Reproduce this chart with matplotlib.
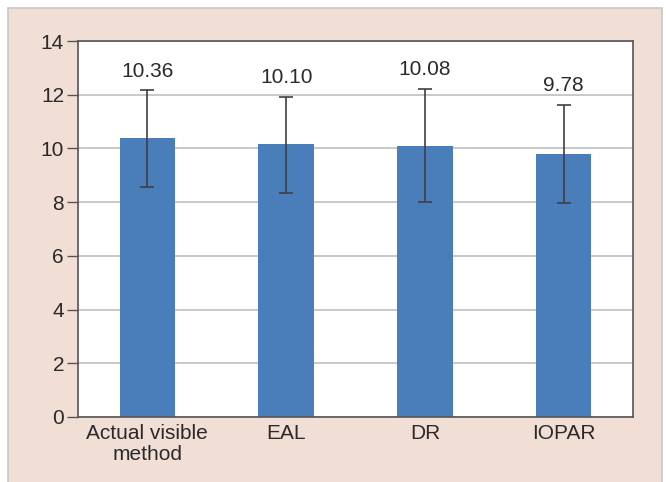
import numpy as np
import matplotlib.pyplot as plt
from matplotlib.patches import Rectangle

metodos = ['Actual visible\nmethod', 'EAL', 'DR', 'IOPAR']
medias = [10.36, 10.10, 10.08, 9.78]
rotulos = ['10.36', '10.10', '10.08', '9.78']
alturas = [10.38, 10.18, 10.10, 9.78]
desvios = [1.80, 1.80, 2.10, 1.83]
centros_erro = [10.36, 10.13, 10.12, 9.79]
yticks = [0, 2, 4, 6, 8, 10, 12, 14]

plt.rcParams['font.family'] = ['Liberation Sans', 'DejaVu Sans']

fig = plt.figure(figsize=(6.66, 4.82), dpi=100)
fig.patch.set_facecolor('white')
fig.patches.append(Rectangle((8 / 666, -0.05), 654 / 666, 1.05 - 8 / 482,
                             transform=fig.transFigure, facecolor='#f1ded5',
                             edgecolor='#c8c8c8', linewidth=1.2, zorder=-1))

ax = fig.add_axes([78 / 666, 1 - 417 / 482, 555 / 666, 376 / 482])
x = np.arange(len(metodos))
ax.bar(x, alturas, width=0.4, color='#4a7ebb', zorder=2)
ax.errorbar(x, centros_erro, yerr=desvios, fmt='none', ecolor='#404040',
            elinewidth=1.2, capsize=5, capthick=1.2, zorder=3)

for xi, c, d, r in zip(x, centros_erro, desvios, rotulos):
    ax.annotate(r, (xi, c + d), xytext=(0, 7), textcoords='offset points',
                ha='center', va='bottom', fontsize=15, color='#2a2a2a')

ax.set_xlim(-0.5, 3.5)
ax.set_ylim(0, 14)
ax.set_yticks(yticks)
ax.set_xticks(x)
ax.set_xticklabels(metodos, fontsize=15, color='#2a2a2a', linespacing=1.15)
ax.tick_params(axis='y', labelsize=15, labelcolor='#2a2a2a', length=8,
               width=1, color='#555555', direction='out', pad=2)
ax.tick_params(axis='x', length=0, pad=5)
ax.yaxis.grid(True, color='#bfbfbf', linewidth=1.2, zorder=0)
ax.set_axisbelow(True)
for s in ax.spines.values():
    s.set_color('#555555')
    s.set_linewidth(1.2)

fig.savefig('out.png', dpi=100, facecolor=fig.get_facecolor())
